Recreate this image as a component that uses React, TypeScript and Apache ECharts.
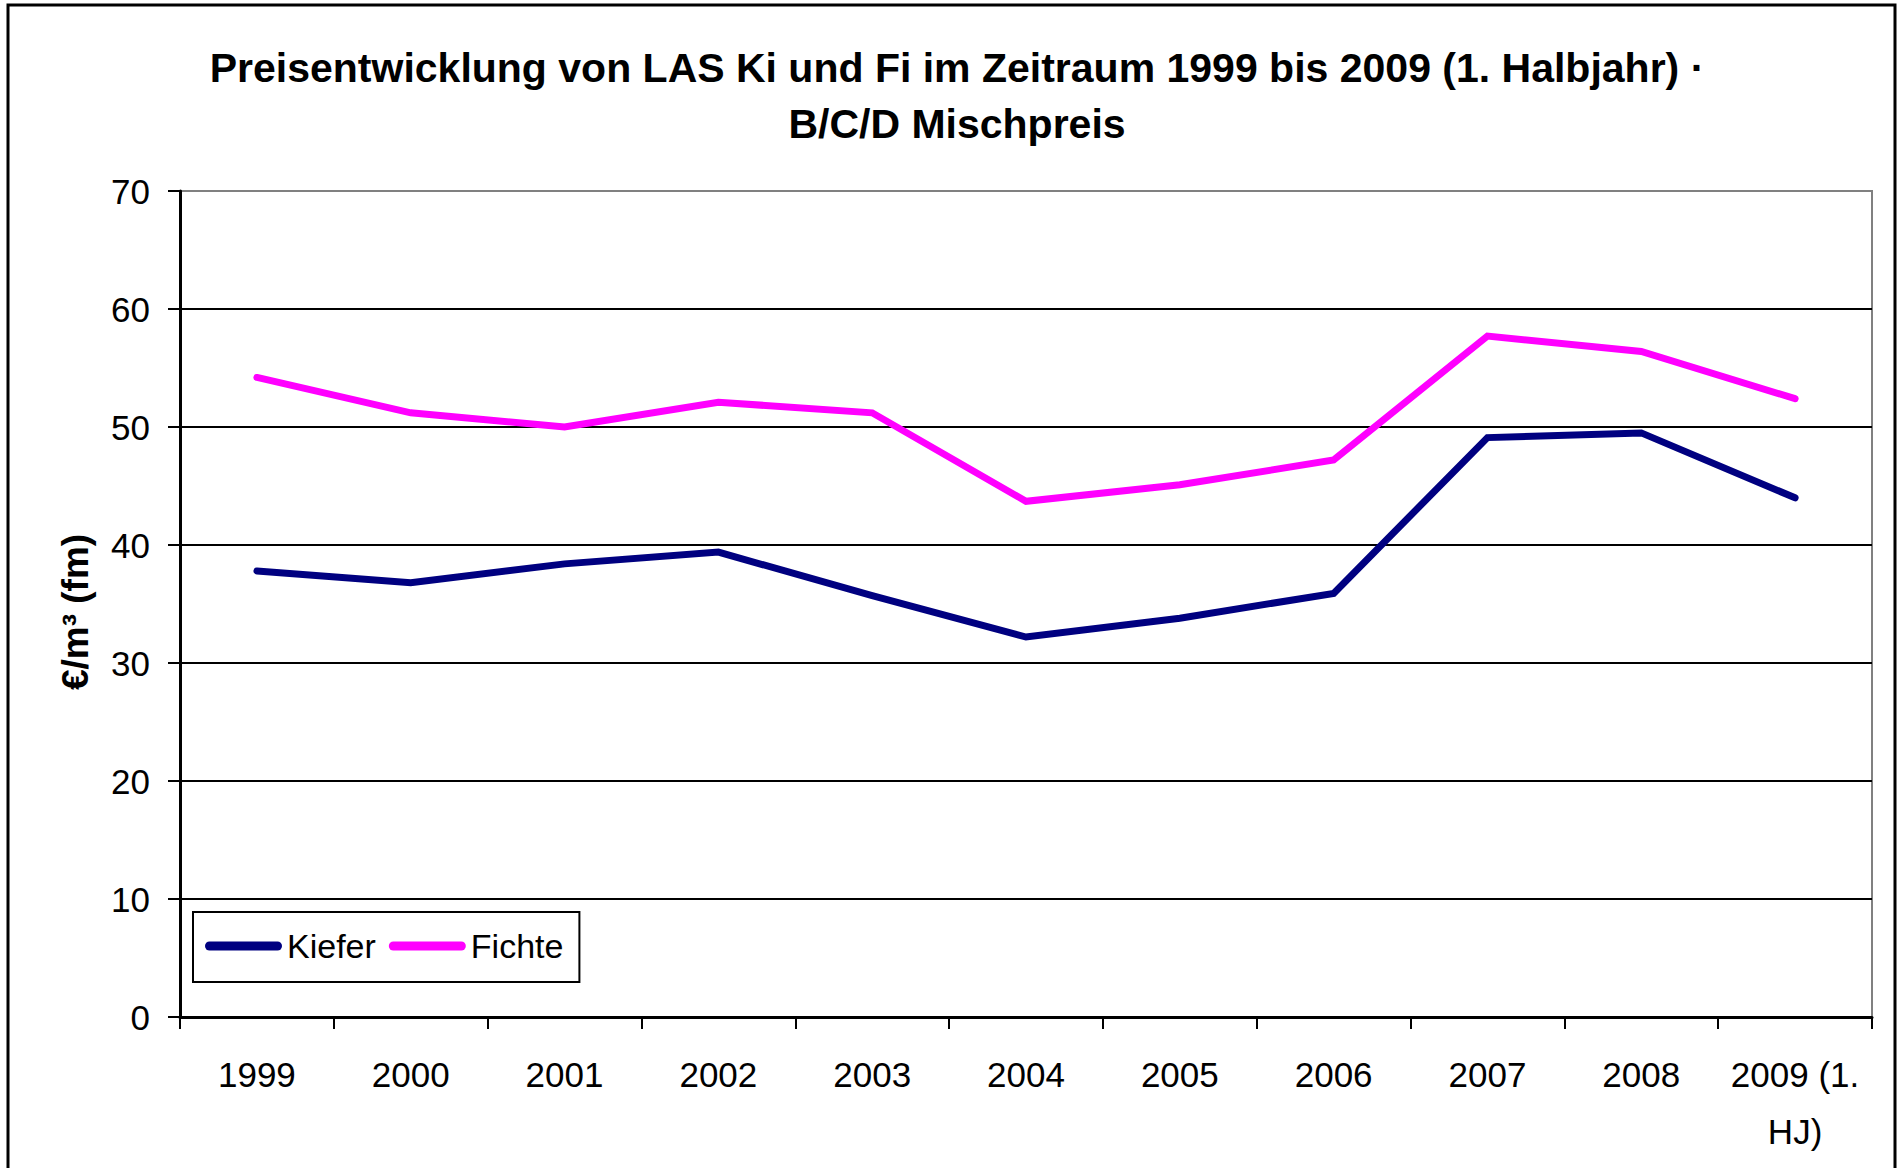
import React, { useEffect, useRef } from "react";
import * as echarts from "echarts";

const titleLines = [
  "Preisentwicklung von LAS Ki und Fi im Zeitraum 1999 bis 2009 (1. Halbjahr) ·",
  "B/C/D Mischpreis",
];
const yAxisName = "€/m³ (fm)";
const categories = ["1999", "2000", "2001", "2002", "2003", "2004", "2005", "2006", "2007", "2008", "2009 (1.\nHJ)"];
const seriesNames = ["Kiefer", "Fichte"];
const kiefer = [37.8, 36.8, 38.4, 39.4, 35.7, 32.2, 33.8, 35.9, 49.1, 49.5, 44.0];
const fichte = [54.2, 51.2, 50.0, 52.1, 51.2, 43.7, 45.1, 47.2, 57.7, 56.4, 52.4];
const yMin = 0;
const yMax = 70;
const yStep = 10;

const FONT = "'Liberation Sans', Arial, sans-serif";
const legendIcon = "path://M4.5,0 L72.5,0 A4.5,4.5 0 0 1 72.5,9 L4.5,9 A4.5,4.5 0 0 1 4.5,0 Z";

export default function App() {
  const ref = useRef<HTMLDivElement>(null);
  useEffect(() => {
    if (!ref.current) return;
    const chart = echarts.init(ref.current, null, { renderer: "svg" });
    chart.setOption({
      animation: false,
      backgroundColor: "#ffffff",
      title: {
        text: titleLines.join("\n"),
        left: 957,
        top: 40,
        textAlign: "center",
        padding: 0,
        textStyle: {
          fontFamily: FONT,
          fontWeight: "bold",
          fontSize: 41,
          lineHeight: 56,
          color: "#000",
        },
      },
      graphic: [
        {
          type: "rect",
          silent: true,
          shape: { x: 8, y: 5, width: 1887, height: 1300 },
          style: { fill: "none", stroke: "#000", lineWidth: 3 },
          z: 100,
        },
        {
          type: "text",
          silent: true,
          x: 75,
          y: 612,
          rotation: Math.PI / 2,
          style: {
            text: yAxisName,
            font: `bold 37px ${FONT}`,
            fill: "#000",
            align: "center",
            verticalAlign: "middle",
          },
        },
      ],
      grid: {
        left: 180,
        right: 26,
        top: 191,
        bottom: 151,
        show: true,
        borderColor: "#808080",
        borderWidth: 2,
        backgroundColor: "transparent",
      },
      legend: {
        left: 193,
        top: 912,
        orient: "horizontal",
        padding: [14, 16, 16, 12],
        itemGap: 13,
        itemWidth: 77,
        itemHeight: 9,
        borderColor: "#000",
        borderWidth: 2,
        borderRadius: 0,
        backgroundColor: "#fff",
        icon: legendIcon,
        data: seriesNames,
        textStyle: {
          fontFamily: FONT,
          fontSize: 34,
          color: "#000",
          lineHeight: 40,
        },
      },
      xAxis: {
        type: "category",
        data: categories,
        boundaryGap: true,
        axisLine: { show: true, lineStyle: { color: "#000", width: 3 } },
        axisTick: {
          show: true,
          interval: 0,
          alignWithLabel: false,
          inside: false,
          length: 12,
          lineStyle: { color: "#000", width: 2 },
        },
        axisLabel: {
          interval: 0,
          margin: 29,
          fontFamily: FONT,
          fontSize: 35,
          lineHeight: 57,
          color: "#000",
          align: "center",
        },
        splitLine: { show: false },
      },
      yAxis: {
        type: "value",
        min: yMin,
        max: yMax,
        interval: yStep,
        axisLine: { show: true, lineStyle: { color: "#000", width: 3 } },
        axisTick: { show: true, length: 12, lineStyle: { color: "#000", width: 2 } },
        axisLabel: {
          margin: 30,
          fontFamily: FONT,
          fontSize: 35,
          color: "#000",
        },
        splitLine: {
          show: true,
          showMaxLine: false,
          lineStyle: { color: "#000", width: 2 },
        },
      },
      series: [
        {
          name: seriesNames[0],
          type: "line",
          data: kiefer,
          showSymbol: false,
          symbol: "none",
          lineStyle: { color: "#000080", width: 7, cap: "round", join: "miter" },
          itemStyle: { color: "#000080" },
          z: 3,
        },
        {
          name: seriesNames[1],
          type: "line",
          data: fichte,
          showSymbol: false,
          symbol: "none",
          lineStyle: { color: "#FF00FF", width: 7, cap: "round", join: "miter" },
          itemStyle: { color: "#FF00FF" },
          z: 3,
        },
      ],
    });
    return () => chart.dispose();
  }, []);
  return (
    <div
      ref={ref}
      style={{ position: "absolute", left: 0, top: 0, width: 1898, height: 1168 }}
    />
  );
}
